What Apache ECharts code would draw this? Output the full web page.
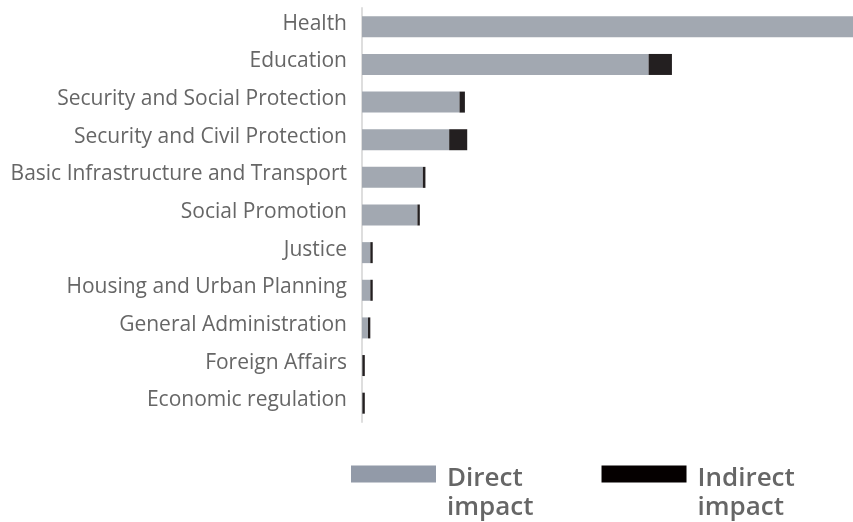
<!DOCTYPE html>
<html>
<head>
<meta charset="utf-8">
<script src="https://cdn.jsdelivr.net/npm/echarts@6/dist/echarts.min.js"></script>
<style>
html,body{margin:0;padding:0;background:#fff;}
#chart{width:853px;height:522px;}
</style>
</head>
<body>
<div id="chart"></div>
<script>
const categories = [
  "Health",
  "Education",
  "Security and Social Protection",
  "Security and Civil Protection",
  "Basic Infrastructure and Transport",
  "Social Promotion",
  "Justice",
  "Housing and Urban Planning",
  "General Administration",
  "Foreign Affairs",
  "Economic regulation"
];
const directImpact   = [490, 286, 97.3, 87, 60.7, 55.3, 8.3, 8.3, 6, 0.4, 0.4];
const indirectImpact = [0, 23.3, 5.4, 18, 2.6, 2.4, 2.4, 2.4, 2.3, 2.4, 2.4];
const seriesNames = ["Direct\nimpact", "Indirect\nimpact"];

const chart = echarts.init(document.getElementById('chart'));
chart.setOption({
  animation: false,
  grid: { left: 362, right: 0, top: 8, bottom: 100, containLabel: false },
  xAxis: {
    type: 'value', min: 0, max: 490,
    show: false
  },
  yAxis: {
    type: 'category',
    data: categories,
    inverse: true,
    axisLine: { show: true, lineStyle: { color: '#dedede', width: 2 } },
    axisTick: { show: false },
    axisLabel: {
      margin: 15,
      formatter: function (v) { return '{t|' + v + '}\n{g| }'; },
      rich: {
        t: { color: '#666', fontFamily: 'Open Sans', fontSize: 21, lineHeight: 24 },
        g: { fontSize: 1, lineHeight: 6 }
      }
    }
  },
  legend: {
    left: 351, top: 440, padding: 0,
    itemWidth: 85, itemHeight: 17, itemGap: 68,
    icon: 'rect',
    formatter: function (name) {
      return '{s| }\n' + name.split('\n').map(function (l) { return '{a|' + l + '}'; }).join('\n');
    },
    textStyle: {
      color: '#666', fontFamily: 'Open Sans', fontSize: 26, fontWeight: 600,
      padding: [0, 0, 0, 6],
      rich: {
        s: { fontSize: 10, lineHeight: 39 },
        a: { color: '#666', fontFamily: 'Open Sans', fontSize: 26, fontWeight: 600, lineHeight: 29 }
      }
    },
    data: [
      { name: seriesNames[0], itemStyle: { color: '#929aa8' } },
      { name: seriesNames[1], itemStyle: { color: '#050000' } }
    ]
  },
  series: [
    {
      name: seriesNames[0], type: 'bar', stack: 'total', barWidth: 21,
      itemStyle: { color: '#a2a8b1' },
      data: directImpact
    },
    {
      name: seriesNames[1], type: 'bar', stack: 'total', barWidth: 21,
      itemStyle: { color: '#231f20' },
      data: indirectImpact
    }
  ]
});
</script>
</body>
</html>
